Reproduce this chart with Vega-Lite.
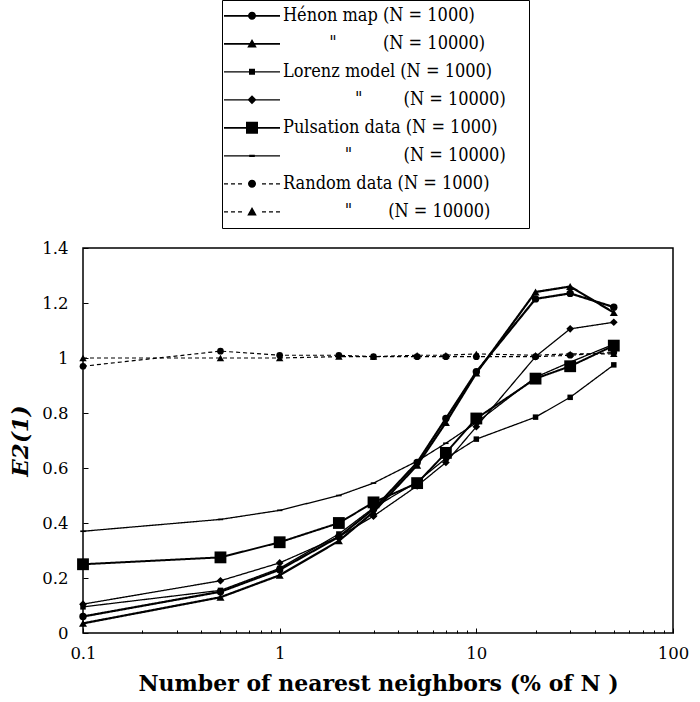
{
  "$schema": "https://vega.github.io/schema/vega-lite/v6.json",
  "autosize": "none",
  "width": 590,
  "height": 385,
  "padding": {"left": 83, "top": 248, "right": 27, "bottom": 69},
  "background": "white",
  "config": {
    "view": {"stroke": "black", "strokeWidth": 1.5},
    "axis": {"labelFont": "DejaVu Serif", "labelColor": "black", "titleFont": "DejaVu Serif", "titleColor": "black", "tickColor": "black", "grid": false, "domain": false}
  },
  "data": {"values": [
    {"series":"H1","x":0.1,"y":0.06},{"series":"H1","x":0.5,"y":0.15},{"series":"H1","x":1,"y":0.23},{"series":"H1","x":2,"y":0.35},{"series":"H1","x":3,"y":0.45},{"series":"H1","x":5,"y":0.62},{"series":"H1","x":7,"y":0.78},{"series":"H1","x":10,"y":0.95},{"series":"H1","x":20,"y":1.215},{"series":"H1","x":30,"y":1.235},{"series":"H1","x":50,"y":1.185},
    {"series":"H2","x":0.1,"y":0.035},{"series":"H2","x":0.5,"y":0.13},{"series":"H2","x":1,"y":0.21},{"series":"H2","x":2,"y":0.335},{"series":"H2","x":3,"y":0.44},{"series":"H2","x":5,"y":0.61},{"series":"H2","x":7,"y":0.765},{"series":"H2","x":10,"y":0.945},{"series":"H2","x":20,"y":1.24},{"series":"H2","x":30,"y":1.26},{"series":"H2","x":50,"y":1.165},
    {"series":"L1","x":0.1,"y":0.095},{"series":"L1","x":0.5,"y":0.155},{"series":"L1","x":1,"y":0.235},{"series":"L1","x":2,"y":0.36},{"series":"L1","x":3,"y":0.455},{"series":"L1","x":5,"y":0.55},{"series":"L1","x":7,"y":0.635},{"series":"L1","x":10,"y":0.705},{"series":"L1","x":20,"y":0.785},{"series":"L1","x":30,"y":0.857},{"series":"L1","x":50,"y":0.975},
    {"series":"L2","x":0.1,"y":0.105},{"series":"L2","x":0.5,"y":0.19},{"series":"L2","x":1,"y":0.255},{"series":"L2","x":2,"y":0.35},{"series":"L2","x":3,"y":0.425},{"series":"L2","x":5,"y":0.535},{"series":"L2","x":7,"y":0.62},{"series":"L2","x":10,"y":0.75},{"series":"L2","x":20,"y":1.005},{"series":"L2","x":30,"y":1.106},{"series":"L2","x":50,"y":1.13},
    {"series":"P1","x":0.1,"y":0.25},{"series":"P1","x":0.5,"y":0.275},{"series":"P1","x":1,"y":0.33},{"series":"P1","x":2,"y":0.4},{"series":"P1","x":3,"y":0.475},{"series":"P1","x":5,"y":0.545},{"series":"P1","x":7,"y":0.655},{"series":"P1","x":10,"y":0.78},{"series":"P1","x":20,"y":0.925},{"series":"P1","x":30,"y":0.97},{"series":"P1","x":50,"y":1.045},
    {"series":"P2","x":0.1,"y":0.37},{"series":"P2","x":0.5,"y":0.413},{"series":"P2","x":1,"y":0.446},{"series":"P2","x":2,"y":0.5},{"series":"P2","x":3,"y":0.545},{"series":"P2","x":5,"y":0.625},{"series":"P2","x":7,"y":0.69},{"series":"P2","x":10,"y":0.765},{"series":"P2","x":20,"y":0.93},{"series":"P2","x":30,"y":0.985},{"series":"P2","x":50,"y":1.05},
    {"series":"R1","x":0.1,"y":0.97},{"series":"R1","x":0.5,"y":1.025},{"series":"R1","x":1,"y":1.01},{"series":"R1","x":2,"y":1.01},{"series":"R1","x":3,"y":1.005},{"series":"R1","x":5,"y":1.005},{"series":"R1","x":7,"y":1.005},{"series":"R1","x":10,"y":1.005},{"series":"R1","x":20,"y":1.005},{"series":"R1","x":30,"y":1.01},{"series":"R1","x":50,"y":1.02},
    {"series":"R2","x":0.1,"y":1.0},{"series":"R2","x":0.5,"y":1.0},{"series":"R2","x":1,"y":1.0},{"series":"R2","x":2,"y":1.005},{"series":"R2","x":3,"y":1.005},{"series":"R2","x":5,"y":1.01},{"series":"R2","x":7,"y":1.01},{"series":"R2","x":10,"y":1.015},{"series":"R2","x":20,"y":1.01},{"series":"R2","x":30,"y":1.015},{"series":"R2","x":50,"y":1.015}
  ]},
  "resolve": {"scale": {"shape": "independent"}, "axis": {"x": "independent"}},
  "layer": [
    {
      "mark": {"type": "line", "color": "black"},
      "encoding": {
        "x": {"field": "x", "type": "quantitative",
              "scale": {"type": "log", "domain": [0.1, 100]},
              "axis": {"values": [0.1, 1, 10, 100], "labelExpr": "format(datum.value, '~g')", "tickSize": -5, "labelPadding": 17, "labelFontSize": 16.5, "labelFlush": false,
                       "title": "Number of nearest neighbors (% of N )", "titleFontSize": 22, "titleFontWeight": "bold", "titlePadding": 12}},
        "y": {"field": "y", "type": "quantitative",
              "scale": {"domain": [0, 1.4]},
              "axis": {"values": [0, 0.2, 0.4, 0.6, 0.8, 1, 1.2, 1.4], "labelExpr": "format(datum.value, '~g')", "tickSize": -5, "labelPadding": 20, "labelFontSize": 16.5,
                       "title": "E2(1)", "titleFontSize": 23, "titleFontWeight": "bold", "titleFontStyle": "italic", "titlePadding": 9}},
        "strokeWidth": {"field": "series", "type": "nominal", "legend": null,
                        "scale": {"type": "ordinal", "domain": ["H1","H2","L1","L2","P1","P2","R1","R2"], "range": [2.2, 2.2, 1.3, 1.3, 2, 1.3, 1.2, 1.2]}},
        "strokeDash": {"field": "series", "type": "nominal", "legend": null,
                       "scale": {"domain": ["H1","H2","L1","L2","P1","P2","R1","R2"], "range": [[1,0],[1,0],[1,0],[1,0],[1,0],[1,0],[4,3],[4,3]]}}
      }
    },
    {
      "mark": {"type": "point", "filled": true, "color": "black", "opacity": 1},
      "encoding": {
        "x": {"field": "x", "type": "quantitative", "axis": null},
        "y": {"field": "y", "type": "quantitative"},
        "shape": {"field": "series", "type": "nominal", "legend": null,
                  "scale": {"domain": ["H1","H2","L1","L2","P1","P2","R1","R2"],
                            "range": ["circle", "triangle-up", "square", "diamond", "square", "M-1,-0.3H1V0.3H-1Z", "circle", "triangle-up"]}},
        "size": {"field": "series", "type": "nominal", "legend": null,
                 "scale": {"type": "ordinal", "domain": ["H1","H2","L1","L2","P1","P2","R1","R2"], "range": [55, 65, 30, 60, 140, 30, 45, 55]}}
      }
    },
    {
      "mark": {"type": "point", "filled": true, "color": "black", "opacity": 0},
      "encoding": {
        "x": {"field": "x", "type": "quantitative",
              "axis": {"orient": "bottom", "values": [0.2,0.3,0.4,0.5,0.6,0.7,0.8,0.9,2,3,4,5,6,7,8,9,20,30,40,50,60,70,80,90], "labels": false, "tickSize": -3, "title": null}},
        "y": {"field": "y", "type": "quantitative"},
        "shape": {"field": "series", "type": "nominal",
                  "scale": {"domain": ["H1","H2","L1","L2","P1","P2","R1","R2"],
                            "range": [
                              "M-1,-0.03H1V0.03H-1ZM0.143,0C0.143,0.079,0.079,0.143,0,0.143C-0.079,0.143,-0.143,0.079,-0.143,0C-0.143,-0.079,-0.079,-0.143,0,-0.143C0.079,-0.143,0.143,-0.079,0.143,0Z",
                              "M-1,-0.03H1V0.03H-1ZM0,-0.17L0.17,0.13L-0.17,0.13Z",
                              "M-1,-0.022H1V0.022H-1ZM-0.107,-0.107H0.107V0.107H-0.107Z",
                              "M-1,-0.022H1V0.022H-1ZM0,-0.16L0.16,0L0,0.16L-0.16,0Z",
                              "M-1,-0.03H1V0.03H-1ZM-0.214,-0.214H0.214V0.214H-0.214Z",
                              "M-1,-0.022H1V0.022H-1ZM-0.1,-0.04H0.1V0.04H-0.1Z",
                              "M-1,-0.022H-0.857V0.022H-1ZM-0.75,-0.022H-0.607V0.022H-0.75ZM-0.5,-0.022H-0.357V0.022H-0.5ZM0.357,-0.022H0.5V0.022H0.357ZM0.607,-0.022H0.75V0.022H0.607ZM0.857,-0.022H1V0.022H0.857ZM0.143,0C0.143,0.079,0.079,0.143,0,0.143C-0.079,0.143,-0.143,0.079,-0.143,0C-0.143,-0.079,-0.079,-0.143,0,-0.143C0.079,-0.143,0.143,-0.079,0.143,0Z",
                              "M-1,-0.022H-0.857V0.022H-1ZM-0.75,-0.022H-0.607V0.022H-0.75ZM-0.5,-0.022H-0.357V0.022H-0.5ZM0.357,-0.022H0.5V0.022H0.357ZM0.607,-0.022H0.75V0.022H0.607ZM0.857,-0.022H1V0.022H0.857ZM0,-0.17L0.17,0.13L-0.17,0.13Z"
                            ]},
                  "legend": {
                    "orient": "none", "legendX": 139, "legendY": -248, "title": null,
                    "strokeColor": "black", "padding": 2, "clipHeight": 27.6, "rowPadding": 0,
                    "symbolSize": 3136, "symbolFillColor": "black", "symbolStrokeColor": "black", "symbolStrokeWidth": 0, "symbolOpacity": 1,
                    "labelFont": "DejaVu Serif Condensed, DejaVu Serif", "labelFontSize": 18, "labelColor": "black", "labelOffset": 3, "labelLimit": 0,
                    "labelExpr": "{'H1': 'Hénon map (N = 1000)', 'H2': '\u200b\u00a0\u00a0\u00a0\u00a0\u00a0\u00a0\u00a0\u00a0\u00a0\"\u00a0\u00a0\u00a0\u00a0\u00a0\u00a0\u00a0\u00a0\u00a0(N = 10000)', 'L1': 'Lorenz model (N = 1000)', 'L2': '\u200b\u00a0\u00a0\u00a0\u00a0\u00a0\u00a0\u00a0\u00a0\u00a0\u00a0\u00a0\u00a0\u00a0\u00a0\"\u00a0\u00a0\u00a0\u00a0\u00a0\u00a0\u00a0\u00a0(N = 10000)\u00a0\u00a0\u00a0\u00a0\u200b', 'P1': 'Pulsation data (N = 1000)', 'P2': '\u200b\u00a0\u00a0\u00a0\u00a0\u00a0\u00a0\u00a0\u00a0\u00a0\u00a0\u00a0\u00a0\"\u00a0\u00a0\u00a0\u00a0\u00a0\u00a0\u00a0\u00a0\u00a0\u00a0(N = 10000)', 'R1': 'Random data (N = 1000)', 'R2': '\u200b\u00a0\u00a0\u00a0\u00a0\u00a0\u00a0\u00a0\u00a0\u00a0\u00a0\u00a0\u00a0\"\u00a0\u00a0\u00a0\u00a0\u00a0\u00a0\u00a0(N = 10000)'}[datum.label]",
                    "encode": {"symbols": {"update": {"opacity": {"value": 1}, "fill": {"value": "black"}}}}
                  }}
      }
    }
  ]
}
